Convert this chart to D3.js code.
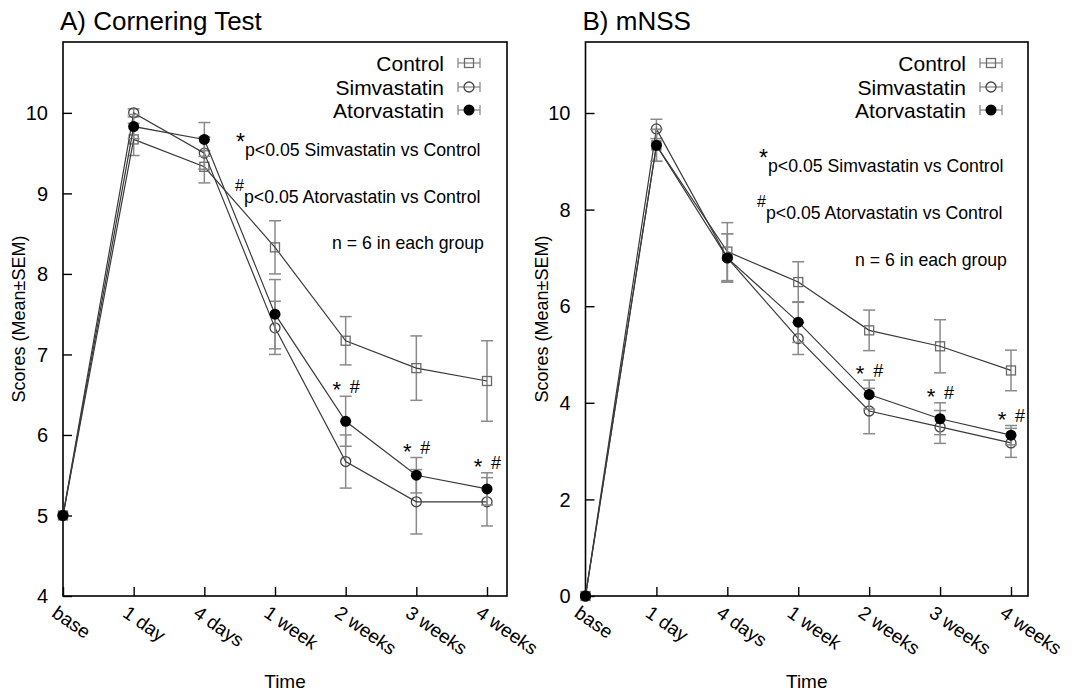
<!DOCTYPE html>
<html>
<head>
<meta charset="utf-8">
<script src="https://cdn.jsdelivr.net/npm/d3@7"></script>
<style>
  body { margin: 0; background: #fff; }
  svg { font-family: "Liberation Sans", Arial, sans-serif; }
</style>
</head>
<body>
<svg id="chart" width="1090" height="691"></svg>
<script>
// data
const categories = ["base", "1 day", "4 days", "1 week", "2 weeks", "3 weeks", "4 weeks"];
const seriesNames = ["Control", "Simvastatin", "Atorvastatin"];

// A) Cornering Test
const cornerControl = [5, 9.67, 9.33, 8.33, 7.17, 6.83, 6.67];
const cornerControlSem = [0, 0.2, 0.2, 0.33, 0.3, 0.4, 0.5];
const cornerSimva = [5, 10, 9.5, 7.33, 5.67, 5.17, 5.17];
const cornerSimvaSem = [0, 0.05, 0.2, 0.33, 0.33, 0.4, 0.3];
const cornerAtorva = [5, 9.83, 9.67, 7.5, 6.17, 5.5, 5.33];
const cornerAtorvaSem = [0, 0.15, 0.21, 0.43, 0.31, 0.22, 0.2];

// B) mNSS
const mnssControl = [0, 9.33, 7.13, 6.5, 5.5, 5.17, 4.67];
const mnssControlSem = [0, 0.33, 0.6, 0.42, 0.42, 0.55, 0.42];
const mnssSimva = [0, 9.67, 7, 5.33, 3.83, 3.5, 3.17];
const mnssSimvaSem = [0, 0.2, 0.5, 0.33, 0.47, 0.34, 0.3];
const mnssAtorva = [0, 9.33, 7, 5.67, 4.17, 3.67, 3.33];
const mnssAtorvaSem = [0, 0.33, 0.5, 0.42, 0.3, 0.33, 0.2];

const cornerTicks = [4, 5, 6, 7, 8, 9, 10];
const mnssTicks = [0, 2, 4, 6, 8, 10];
const sigIndex = [4, 5, 6]; // "* #" marks

const svg = d3.select("#chart");

function drawPanel(cfg) {
  const g = svg.append("g");
  const x = d3.scaleLinear().domain([0, cfg.xMax]).range([cfg.left, cfg.right]);
  const y = d3.scaleLinear().domain(cfg.yDomain).range([cfg.bottom, cfg.top]);

  // frame
  g.append("rect")
    .attr("x", cfg.left).attr("y", cfg.top)
    .attr("width", cfg.right - cfg.left).attr("height", cfg.bottom - cfg.top)
    .attr("fill", "none").attr("stroke", "#000").attr("stroke-width", 1.6);

  // y axis ticks (inward)
  const yAxis = d3.axisRight(y).tickValues(cfg.yTicks).tickSize(9).tickFormat("");
  g.append("g").attr("transform", `translate(${cfg.left},0)`).call(yAxis)
    .call(s => s.select(".domain").remove())
    .selectAll("line").attr("stroke", "#000").attr("stroke-width", 1.4);
  g.selectAll(".ylab").data(cfg.yTicks).join("text")
    .attr("x", cfg.left - 15).attr("y", d => y(d)).attr("dy", "0.36em")
    .attr("text-anchor", "end").attr("font-size", 20).text(d => d);

  // x axis ticks (inward)
  const xAxis = d3.axisTop(x).tickValues(d3.range(categories.length)).tickSize(9).tickFormat("");
  g.append("g").attr("transform", `translate(0,${cfg.bottom})`).call(xAxis)
    .call(s => s.select(".domain").remove())
    .selectAll("line").attr("stroke", "#000").attr("stroke-width", 1.4);
  g.selectAll(".xlab").data(categories).join("text")
    .attr("transform", (d, i) => `translate(${x(i) - 4},${cfg.bottom + 8}) rotate(35)`)
    .attr("dy", "0.75em").attr("font-size", 19)
    .text(d => d);

  // axis titles
  g.append("text").attr("x", (cfg.left + cfg.right) / 2).attr("y", 681)
    .attr("dy", "0.36em").attr("text-anchor", "middle").attr("font-size", 19).text("Time");
  g.append("text")
    .attr("transform", `translate(${cfg.left - 44},${(cfg.top + cfg.bottom) / 2}) rotate(-90)`)
    .attr("dy", "0.36em").attr("text-anchor", "middle").attr("font-size", 18)
    .text("Scores (Mean\u00b1SEM)");

  // panel title
  g.append("text").attr("x", cfg.left - 3).attr("y", 30)
    .attr("font-size", 26).text(cfg.title);

  const line = d3.line().x((d, i) => x(i)).y(d => y(d));
  const markers = ["square", "circle", "dot"];

  cfg.series.forEach((s, k) => {
    // error bars
    const eb = g.append("g").attr("stroke", "#8a8a8a").attr("stroke-width", 1.5);
    s.values.forEach((v, i) => {
      const e = s.sem[i];
      if (!e) return;
      eb.append("line").attr("x1", x(i)).attr("x2", x(i)).attr("y1", y(v - e)).attr("y2", y(v + e));
      eb.append("line").attr("x1", x(i) - 6).attr("x2", x(i) + 6).attr("y1", y(v - e)).attr("y2", y(v - e));
      eb.append("line").attr("x1", x(i) - 6).attr("x2", x(i) + 6).attr("y1", y(v + e)).attr("y2", y(v + e));
    });
    g.append("path").attr("d", line(s.values))
      .attr("fill", "none").attr("stroke", "#3a3a3a").attr("stroke-width", 1.2);
    drawMarkers(g, markers[k], s.values.map((v, i) => [x(i), y(v)]));
  });

  // significance marks
  const ator = cfg.series[2];
  sigIndex.forEach(i => {
    const yy = y(ator.values[i] + ator.sem[i]) - 10;
    g.append("text").attr("x", x(i) - 9).attr("y", yy).attr("dy", "0.5em")
      .attr("text-anchor", "middle").attr("font-size", 22).text("*");
    g.append("text").attr("x", x(i) + 9).attr("y", yy).attr("dy", "0.36em")
      .attr("text-anchor", "middle").attr("font-size", 18).text("#");
  });

  // legend
  seriesNames.forEach((name, k) => {
    const ly = cfg.legendY[k];
    g.append("text").attr("x", cfg.legendX - 25).attr("y", ly).attr("dy", "0.36em")
      .attr("text-anchor", "end").attr("font-size", 21).text(name);
    const lg = g.append("g").attr("stroke", "#8a8a8a").attr("stroke-width", 1.3);
    lg.append("line").attr("x1", cfg.legendX - 11).attr("x2", cfg.legendX + 11).attr("y1", ly).attr("y2", ly);
    lg.append("line").attr("x1", cfg.legendX - 11).attr("x2", cfg.legendX - 11).attr("y1", ly - 5).attr("y2", ly + 5);
    lg.append("line").attr("x1", cfg.legendX + 11).attr("x2", cfg.legendX + 11).attr("y1", ly - 5).attr("y2", ly + 5);
    drawMarkers(g, markers[k], [[cfg.legendX, ly]]);
  });

  // notes
  cfg.notes.forEach(n => {
    if (n.sup) {
      g.append("text").attr("x", n.x - 9).attr("y", n.y - 12).attr("dy", n.sup === "*" ? "0.5em" : "0.36em")
        .attr("font-size", n.sup === "*" ? 23 : 16).text(n.sup);
    }
    g.append("text").attr("x", n.x).attr("y", n.y).attr("dy", "0.36em")
      .attr("font-size", 17.7).text(n.text);
  });
}

function drawMarkers(g, type, pts) {
  if (type === "square") {
    g.selectAll(null).data(pts).join("rect")
      .attr("x", d => d[0] - 4.5).attr("y", d => d[1] - 4.5)
      .attr("width", 9).attr("height", 9)
      .attr("fill", "none").attr("stroke", "#6a6a6a").attr("stroke-width", 1.3);
  } else if (type === "circle") {
    g.selectAll(null).data(pts).join("circle")
      .attr("cx", d => d[0]).attr("cy", d => d[1]).attr("r", 5)
      .attr("fill", "none").attr("stroke", "#444").attr("stroke-width", 1.3);
  } else {
    g.selectAll(null).data(pts).join("circle")
      .attr("cx", d => d[0]).attr("cy", d => d[1]).attr("r", 5.5)
      .attr("fill", "#000");
  }
}

drawPanel({
  title: "A) Cornering Test",
  left: 63, right: 507, top: 42, bottom: 596, xMax: 6.283,
  yDomain: [4, 10.88], yTicks: cornerTicks,
  series: [
    { values: cornerControl, sem: cornerControlSem },
    { values: cornerSimva, sem: cornerSimvaSem },
    { values: cornerAtorva, sem: cornerAtorvaSem }
  ],
  legendX: 469, legendY: [63, 87, 110],
  notes: [
    { sup: "*", x: 245, y: 150, text: "p<0.05 Simvastatin vs Control" },
    { sup: "#", x: 244, y: 197, text: "p<0.05 Atorvastatin vs Control" },
    { x: 332, y: 243, text: "n = 6 in each group" }
  ]
});

drawPanel({
  title: "B) mNSS",
  left: 585.5, right: 1028, top: 42, bottom: 596, xMax: 6.24,
  yDomain: [0, 11.47], yTicks: mnssTicks,
  series: [
    { values: mnssControl, sem: mnssControlSem },
    { values: mnssSimva, sem: mnssSimvaSem },
    { values: mnssAtorva, sem: mnssAtorvaSem }
  ],
  legendX: 991, legendY: [63, 87, 110],
  notes: [
    { sup: "*", x: 768, y: 166, text: "p<0.05 Simvastatin vs Control" },
    { sup: "#", x: 766, y: 213, text: "p<0.05 Atorvastatin vs Control" },
    { x: 855, y: 260, text: "n = 6 in each group" }
  ]
});
</script>
</body>
</html>
